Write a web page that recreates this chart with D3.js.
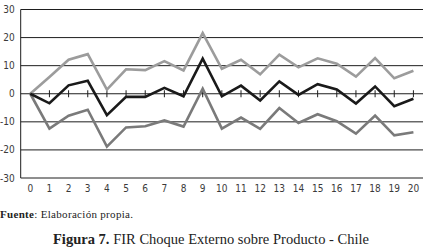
<!DOCTYPE html>
<html>
<head>
<meta charset="utf-8">
<script src="https://cdn.jsdelivr.net/npm/d3@7"></script>
<style>
  body { margin: 0; background: #fff; }
  svg { display: block; }
</style>
</head>
<body>
<div id="wrapper"></div>
<script>
// data
const periods = d3.range(0, 21)
const upper  = [0, 6, 12.1, 14.1, 1.5, 8.7, 8.4, 11.6, 8.3, 21.6, 8.9, 12.1, 6.9, 13.9, 9.4, 12.6, 10.7, 6.1, 12.7, 5.5, 8.2]
const fir    = [0, -3.4, 3.0, 4.6, -7.6, -1.1, -1.1, 2.1, -0.9, 12.5, -0.9, 2.9, -2.4, 4.4, -0.4, 3.4, 1.5, -3.5, 2.6, -4.4, -1.8]
const lower  = [0, -12.4, -7.8, -5.7, -18.8, -12.0, -11.6, -9.5, -11.7, 1.8, -12.4, -8.5, -12.5, -5.1, -10.4, -7.3, -9.8, -14.2, -7.8, -14.8, -13.7]
const yTicks = [-30, -20, -10, 0, 10, 20, 30]

const width = 423
const height = 249
const margin = { top: 9.5, right: 0, bottom: 71, left: 20.7 }
const boundedWidth = width - margin.left - margin.right
const boundedHeight = height - margin.top - margin.bottom

const tickFont = "'Liberation Sans Narrow', 'DejaVu Sans Condensed', sans-serif"

const svg = d3.select("#wrapper").append("svg")
    .attr("width", width)
    .attr("height", height)

const bounds = svg.append("g")
    .attr("transform", `translate(${margin.left},${margin.top})`)

const xScale = d3.scalePoint()
    .domain(periods)
    .range([0, boundedWidth])
    .padding(0.5)

const yScale = d3.scaleLinear()
    .domain([-30, 30])
    .range([boundedHeight, 0])

// gridlines
bounds.append("g")
  .selectAll("line")
  .data(yTicks)
  .join("line")
    .attr("x1", 0)
    .attr("x2", boundedWidth)
    .attr("y1", d => yScale(d))
    .attr("y2", d => yScale(d))
    .attr("stroke", "#1e1e1e")
    .attr("stroke-width", 1)

// left axis line
bounds.append("line")
    .attr("x1", 0).attr("x2", 0)
    .attr("y1", 0).attr("y2", boundedHeight)
    .attr("stroke", "#1e1e1e")

// tick marks across the zero line
bounds.append("g")
  .selectAll("line")
  .data(periods.slice(1))
  .join("line")
    .attr("x1", d => xScale(d))
    .attr("x2", d => xScale(d))
    .attr("y1", yScale(0) - 3.5)
    .attr("y2", yScale(0) + 3.5)
    .attr("stroke", "#1e1e1e")
    .attr("stroke-width", 1)

// y labels
bounds.append("g")
  .selectAll("text")
  .data(yTicks)
  .join("text")
    .attr("x", -6)
    .attr("y", d => yScale(d))
    .attr("dy", "0.35em")
    .attr("text-anchor", "end")
    .attr("font-family", tickFont)
    .attr("font-size", 10)
    .attr("fill", "#3a3a3a")
    .text(d => d)

// x labels
bounds.append("g")
  .selectAll("text")
  .data(periods)
  .join("text")
    .attr("x", d => xScale(d))
    .attr("y", boundedHeight + 14)
    .attr("text-anchor", "middle")
    .attr("font-family", tickFont)
    .attr("font-size", 10)
    .attr("fill", "#3a3a3a")
    .text(d => d)

// lines
const lineGenerator = values => d3.line()
    .x((d, i) => xScale(periods[i]))
    .y(d => yScale(d))(values)

const series = [
  { values: upper, color: "#9c9c9c" },
  { values: lower, color: "#7a7a7a" },
  { values: fir, color: "#1a1a1a" },
]

bounds.selectAll(".series")
  .data(series)
  .join("path")
    .attr("class", "series")
    .attr("d", d => lineGenerator(d.values))
    .attr("fill", "none")
    .attr("stroke", d => d.color)
    .attr("stroke-width", 2.6)
    .attr("stroke-linejoin", "miter")

// source note
const note = svg.append("text")
    .attr("x", 0)
    .attr("y", 218)
    .attr("font-family", "'Liberation Serif', serif")
    .attr("font-size", 11)
    .attr("fill", "#222")
    .attr("textLength", 133)
    .attr("lengthAdjust", "spacing")
note.append("tspan").attr("font-weight", "bold").text("Fuente")
note.append("tspan").text(": Elaboración propia.")

// caption
const caption = svg.append("text")
    .attr("x", 53)
    .attr("y", 244)
    .attr("font-family", "'Liberation Serif', serif")
    .attr("font-size", 14.5)
    .attr("fill", "#222")
    .attr("textLength", 316)
    .attr("lengthAdjust", "spacing")
caption.append("tspan").attr("font-weight", "bold").text("Figura 7. ")
caption.append("tspan").text("FIR Choque Externo sobre Producto - Chile")
</script>
</body>
</html>
